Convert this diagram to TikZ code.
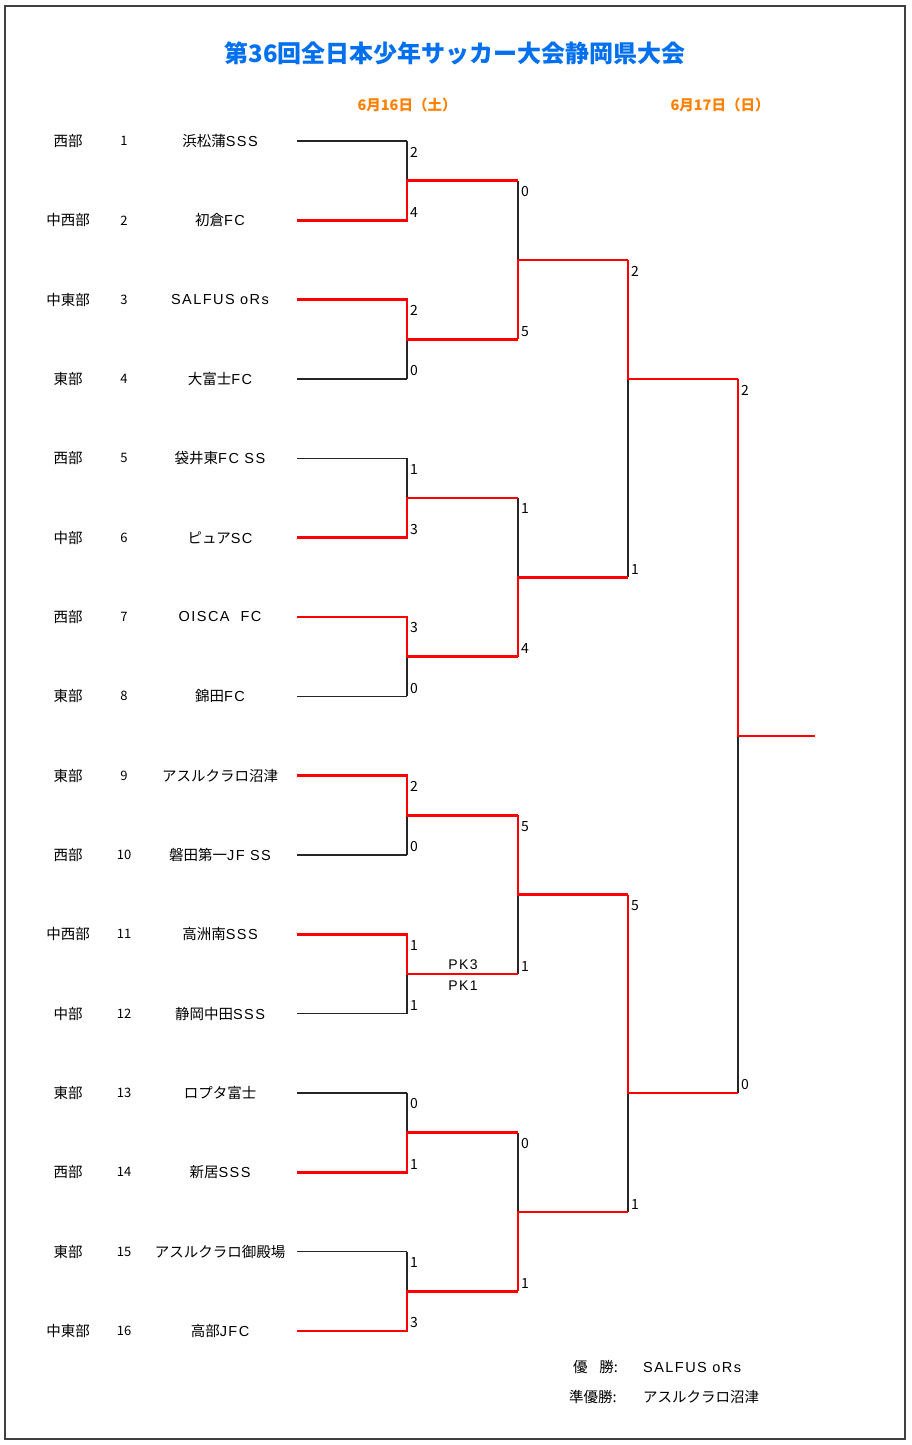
\documentclass[tikz,border=0pt]{standalone}
\usepackage{fontspec}
\setmainfont{Noto Sans CJK JP}
\newfontfamily\lat[LetterSpace=10]{Liberation Sans}
\definecolor{titleblue}{RGB}{0,112,240}
\definecolor{dayorange}{RGB}{255,128,0}

\begin{document}
\begin{tikzpicture}[x=1pt, y=-1pt,
    lose/.style={line width=1.3pt, black!85},
    win/.style={line width=2.8pt, red},
    frame/.style={line width=1.3pt, black!75},
    title/.style={font=\fontsize{24}{26}\selectfont\bfseries, text=titleblue},
    day/.style={font=\fontsize{14.5}{16}\selectfont\bfseries, text=dayorange},
    entry/.style={font=\fontsize{14.5}{16}\selectfont, inner sep=0pt},
    seed/.style={font=\fontsize{13}{15}\selectfont, inner sep=0pt},
    score/.style={font=\fontsize{14}{15}\selectfont, inner sep=0pt}]
    \useasboundingbox (0,0) rectangle (912,1445);
    \fill[white] (0,0) rectangle (912,1445);
    \draw[frame] (5,6) rectangle (905,1439);

    % Headings
    \node[title] (title) at (455,53) {第36回全日本少年サッカー大会静岡県大会};
    \node[day] (day1) at (407,105) {6月16日（土）};
    \node[day] (day2) at (720,105) {6月17日（日）};

    % Teams
    \foreach \i/\reg/\team in {1/西部/浜松蒲{\lat SSS}, 2/中西部/初倉{\lat FC},
        3/中東部/{\lat SALFUS oRs}, 4/東部/大富士{\lat FC}, 5/西部/袋井東{\lat FC SS},
        6/中部/ピュア{\lat SC}, 7/西部/{\lat OISCA~~FC}, 8/東部/錦田{\lat FC},
        9/東部/アスルクラロ沼津, 10/西部/磐田第一{\lat JF SS}, 11/中西部/高洲南{\lat SSS},
        12/中部/静岡中田{\lat SSS}, 13/東部/ロプタ富士, 14/西部/新居{\lat SSS},
        15/東部/アスルクラロ御殿場, 16/中東部/高部{\lat JFC}} {
        \pgfmathsetmacro\yy{141+(\i-1)*79.33}
        \node[entry] (reg\i) at (68,\yy) {\reg};
        \node[seed] (no\i) at (124,\yy) {\i};
        \node[entry] (team\i) at (220,\yy) {\team};
        \coordinate (s0-\i) at (297,\yy);
        \coordinate (e0-\i) at (407,\yy);
        \draw[lose] (s0-\i) -- (e0-\i);
    }

    % Match levels
    \foreach \y [count=\k] in {180.7,339.3,497.9,656.6,815.3,974,1132.6,1291.3} {
        \coordinate (s1-\k) at (407,\y);
        \coordinate (e1-\k) at (518,\y);
    }
    \foreach \y [count=\k] in {260,577.3,894.6,1212} {
        \coordinate (s2-\k) at (518,\y);
        \coordinate (e2-\k) at (628,\y);
    }
    \foreach \y [count=\k] in {379,1093} {
        \coordinate (s3-\k) at (628,\y);
        \coordinate (e3-\k) at (738,\y);
    }
    \coordinate (s4-1) at (738,736);
    \coordinate (e4-1) at (815,736);

    % Round 1
    \foreach \k/\a/\b in {1/2/4,2/2/0,3/1/3,4/3/0,5/2/0,6/1/1,7/0/1,8/1/3} {
        \pgfmathtruncatemacro\p{2*\k-1}
        \pgfmathtruncatemacro\q{2*\k}
        \draw[lose] (e0-\p) -- (e0-\q);
        \node[score] (r1t\k) at ([shift={(7,11)}]e0-\p) {\a};
        \node[score] (r1b\k) at ([shift={(7,-8)}]e0-\q) {\b};
    }
    \node[score] (pk3) at (463,965) {\lat PK3};
    \node[score] (pk1) at (463,986) {\lat PK1};

    % Round 2
    \foreach \k/\a/\b in {1/0/5,2/1/4,3/5/1,4/0/1} {
        \pgfmathtruncatemacro\p{2*\k-1}
        \pgfmathtruncatemacro\q{2*\k}
        \draw[lose] (e1-\p) -- (e1-\q);
        \node[score] (r2t\k) at ([shift={(7,11)}]e1-\p) {\a};
        \node[score] (r2b\k) at ([shift={(7,-8)}]e1-\q) {\b};
    }

    % Round 3
    \foreach \k/\a/\b in {1/2/1,2/5/1} {
        \pgfmathtruncatemacro\p{2*\k-1}
        \pgfmathtruncatemacro\q{2*\k}
        \draw[lose] (e2-\p) -- (e2-\q);
        \node[score] (r3t\k) at ([shift={(7,11)}]e2-\p) {\a};
        \node[score] (r3b\k) at ([shift={(7,-8)}]e2-\q) {\b};
    }

    % Final
    \draw[lose] (e3-1) -- (e3-2);
    \node[score] (r4t1) at ([shift={(7,11)}]e3-1) {2};
    \node[score] (r4b1) at ([shift={(7,-9)}]e3-2) {0};

    % Winners
    \foreach \k/\w in {1/2,2/3,3/6,4/7,5/9,6/11,7/14,8/16}
        \draw[win] (s0-\w) -- (e0-\w) -- (s1-\k) -- (e1-\k);
    \foreach \k/\w in {1/2,2/4,3/5,4/8}
        \draw[win] (e1-\w) -- (s2-\k) -- (e2-\k);
    \foreach \k/\w in {1/1,2/3}
        \draw[win] (e2-\w) -- (s3-\k) -- (e3-\k);
    \draw[win] (e3-1) -- (s4-1) -- (e4-1);

    % Result
    \node[entry, anchor=west] (firstlab) at (573,1367) {優\hspace{0.8em}勝:};
    \node[entry, anchor=west] (secondlab) at (569,1397) {準優勝:};
    \node[entry, anchor=west] (first) at (643,1367) {\lat SALFUS oRs};
    \node[entry, anchor=west] (second) at (643,1397) {アスルクラロ沼津};
\end{tikzpicture}
\end{document}
